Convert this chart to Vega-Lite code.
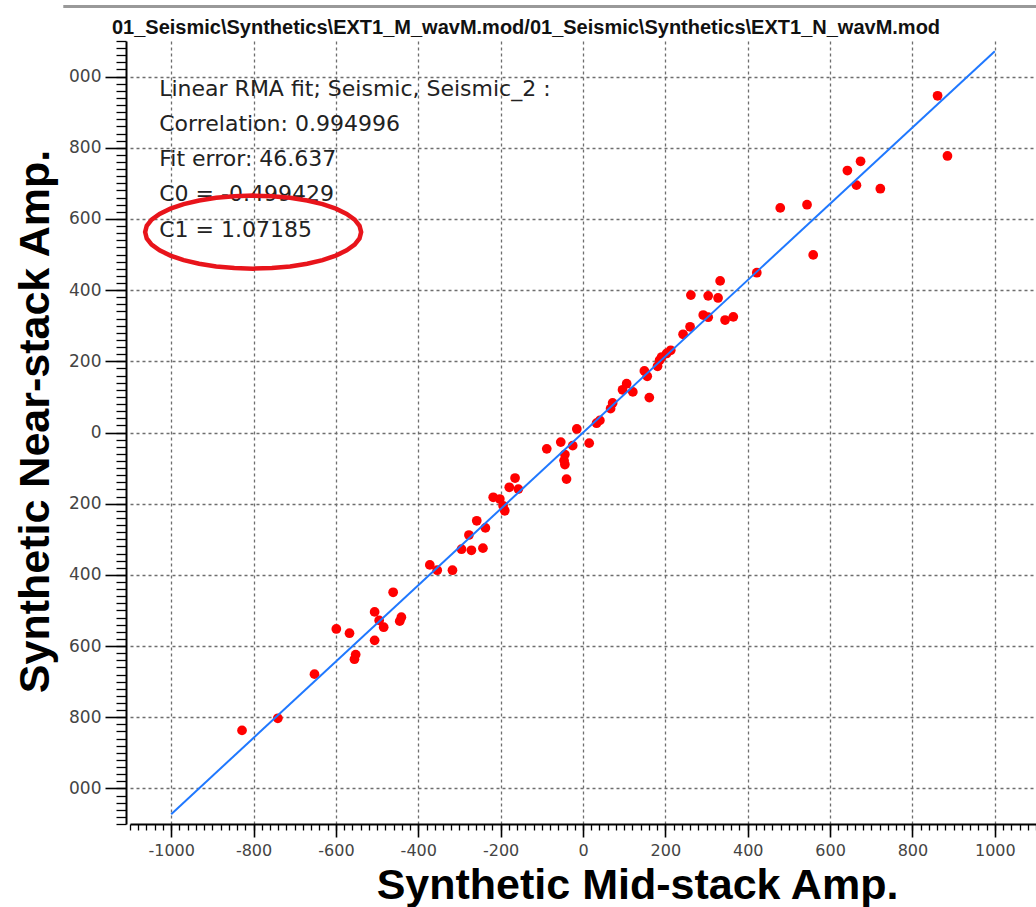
{
  "$schema": "https://vega.github.io/schema/vega-lite/v6.json",
  "width": 906,
  "height": 783,
  "autosize": {"type": "none"},
  "padding": {"left": 130, "top": 41, "right": 0, "bottom": 83},
  "background": "white",
  "title": {
    "text": "01_Seismic\\Synthetics\\EXT1_M_wavM.mod/01_Seismic\\Synthetics\\EXT1_N_wavM.mod",
    "font": "Liberation Sans",
    "fontSize": 20,
    "fontWeight": "bold",
    "color": "#111111",
    "anchor": "middle",
    "frame": "group",
    "dx": -57,
    "offset": -49,
    "baseline": "alphabetic"
  },
  "config": {"view": {"stroke": null}},
  "datasets": {
    "pts": [
      {"mid": 479, "near": 631}, {"mid": 544, "near": 640}, {"mid": 559, "near": 499}, {"mid": 642, "near": 736},
      {"mid": 674, "near": 762}, {"mid": 664, "near": 695}, {"mid": 722, "near": 685}, {"mid": 861, "near": 946},
      {"mid": 885, "near": 777}, {"mid": 422, "near": 449}, {"mid": 333, "near": 426}, {"mid": 262, "near": 386},
      {"mid": 304, "near": 384}, {"mid": 328, "near": 378}, {"mid": 292, "near": 330}, {"mid": 304, "near": 324},
      {"mid": 345, "near": 316}, {"mid": 365, "near": 325}, {"mid": 260, "near": 297}, {"mid": 243, "near": 276},
      {"mid": 213, "near": 231}, {"mid": 203, "near": 222}, {"mid": 191, "near": 212}, {"mid": 186, "near": 203},
      {"mid": 181, "near": 186}, {"mid": 149, "near": 173}, {"mid": 156, "near": 158}, {"mid": 161, "near": 98},
      {"mid": 106, "near": 137}, {"mid": 96, "near": 120}, {"mid": 121, "near": 114}, {"mid": 72, "near": 83},
      {"mid": 67, "near": 67}, {"mid": 33, "near": 26}, {"mid": 41, "near": 34}, {"mid": -15, "near": 10},
      {"mid": 15, "near": -30}, {"mid": -54, "near": -27}, {"mid": -25, "near": -37}, {"mid": -88, "near": -46},
      {"mid": -44, "near": -62}, {"mid": -46, "near": -79}, {"mid": -44, "near": -90}, {"mid": -40, "near": -131},
      {"mid": -165, "near": -128}, {"mid": -179, "near": -154}, {"mid": -157, "near": -159}, {"mid": -218, "near": -182},
      {"mid": -202, "near": -187}, {"mid": -194, "near": -206}, {"mid": -190, "near": -220}, {"mid": -258, "near": -248},
      {"mid": -237, "near": -268}, {"mid": -277, "near": -288}, {"mid": -295, "near": -328}, {"mid": -271, "near": -331},
      {"mid": -243, "near": -325}, {"mid": -372, "near": -372}, {"mid": -354, "near": -387}, {"mid": -317, "near": -387},
      {"mid": -461, "near": -449}, {"mid": -506, "near": -504}, {"mid": -495, "near": -528}, {"mid": -484, "near": -547},
      {"mid": -441, "near": -519}, {"mid": -445, "near": -530}, {"mid": -599, "near": -552}, {"mid": -567, "near": -564},
      {"mid": -506, "near": -584}, {"mid": -552, "near": -624}, {"mid": -555, "near": -637}, {"mid": -652, "near": -679},
      {"mid": -741, "near": -803}, {"mid": -828, "near": -837}
    ],
    "fit": [
      {"mid": -1000, "near": -1072.35},
      {"mid": 1000, "near": 1071.35}
    ]
  },
  "layer": [
    {
      "data": {"name": "pts"},
      "mark": {"type": "circle", "opacity": 0},
      "encoding": {
        "x": {
          "field": "mid", "type": "quantitative",
          "scale": {"domain": [-1100, 1100], "nice": false, "zero": false},
          "axis": {"orient": "bottom", "tickCount": 110, "labels": false, "grid": false, "domain": false, "ticks": true, "tickSize": 6, "tickColor": "#000000", "tickWidth": 1.3, "title": null}
        },
        "y": {
          "field": "near", "type": "quantitative",
          "scale": {"domain": [-1100, 1100], "nice": false, "zero": false},
          "axis": {"orient": "left", "tickCount": 110, "labels": false, "grid": false, "domain": false, "ticks": true, "tickSize": 10, "tickColor": "#000000", "tickWidth": 1.3, "offset": 4, "title": null}
        }
      }
    },
    {
      "data": {"name": "pts"},
      "mark": {"type": "circle", "size": 95, "color": "#ff0000", "opacity": 1},
      "encoding": {
        "x": {
          "field": "mid", "type": "quantitative",
          "axis": {
            "orient": "bottom",
            "values": [-1000, -800, -600, -400, -200, 0, 200, 400, 600, 800, 1000],
            "labelExpr": "'' + datum.value",
            "grid": true, "gridDash": [3, 3], "gridColor": "#6e6e6e", "gridWidth": 1.3,
            "domain": true, "domainColor": "#000000", "domainWidth": 2,
            "tickSize": 13, "tickColor": "#000000", "tickWidth": 1.6,
            "labelFont": "DejaVu Sans", "labelFontSize": 16, "labelColor": "#444444", "labelPadding": 5,
            "title": "Synthetic Mid-stack Amp.",
            "titleFont": "Liberation Sans", "titleFontSize": 43, "titleFontWeight": "bold", "titleColor": "#000000",
            "titleX": 507, "titleY": 74, "titleAlign": "center", "titleBaseline": "alphabetic"
          }
        },
        "y": {
          "field": "near", "type": "quantitative",
          "axis": {
            "orient": "left",
            "values": [-1000, -800, -600, -400, -200, 0, 200, 400, 600, 800, 1000],
            "labelExpr": "abs(datum.value) == 1000 ? '000' : '' + abs(datum.value)",
            "grid": true, "gridDash": [3, 3], "gridColor": "#6e6e6e", "gridWidth": 1.3,
            "domain": true, "domainColor": "#000000", "domainWidth": 2, "offset": 4,
            "tickSize": 21, "tickColor": "#000000", "tickWidth": 1.6,
            "labelFont": "DejaVu Sans", "labelFontSize": 17, "labelColor": "#444444", "labelPadding": 4,
            "title": "Synthetic Near-stack Amp.",
            "titleFont": "Liberation Sans", "titleFontSize": 43, "titleFontWeight": "bold", "titleColor": "#000000",
            "titleX": -78, "titleY": 380, "titleAlign": "center", "titleBaseline": "alphabetic"
          }
        }
      }
    },
    {
      "data": {"name": "fit"},
      "mark": {"type": "line", "color": "#1f78ff", "strokeWidth": 2},
      "encoding": {
        "x": {"field": "mid", "type": "quantitative", "axis": null},
        "y": {"field": "near", "type": "quantitative", "axis": null}
      }
    },
    {
      "data": {"values": [{"note": "fit"}]},
      "mark": {
        "type": "text", "align": "left", "baseline": "alphabetic",
        "font": "DejaVu Sans", "fontSize": 22, "color": "#222222", "lineHeight": 35.3,
        "text": ["Linear RMA fit; Seismic, Seismic_2 :", "Correlation: 0.994996", "Fit error: 46.637", "C0 = -0.499429", "C1 = 1.07185"]
      },
      "encoding": {
        "x": {"datum": -1029, "type": "quantitative", "axis": null},
        "y": {"datum": 946.6, "type": "quantitative", "axis": null}
      }
    },
    {
      "data": {"values": [{"note": "C1"}]},
      "mark": {
        "type": "point", "filled": false, "color": "#e8141b", "strokeWidth": 4.5, "opacity": 1, "size": 46656,
        "shape": "M 1 0 L 0.985 0.059 L 0.94 0.116 L 0.866 0.169 L 0.766 0.217 L 0.643 0.259 L 0.5 0.293 L 0.342 0.318 L 0.174 0.333 L 0 0.338 L -0.174 0.333 L -0.342 0.318 L -0.5 0.293 L -0.643 0.259 L -0.766 0.217 L -0.866 0.169 L -0.94 0.116 L -0.985 0.059 L -1 0 L -0.985 -0.059 L -0.94 -0.116 L -0.866 -0.169 L -0.766 -0.217 L -0.643 -0.259 L -0.5 -0.293 L -0.342 -0.318 L -0.174 -0.333 L 0 -0.338 L 0.174 -0.333 L 0.342 -0.318 L 0.5 -0.293 L 0.643 -0.259 L 0.766 -0.217 L 0.866 -0.169 L 0.94 -0.116 L 0.985 -0.059 Z"
      },
      "encoding": {
        "x": {"datum": -801, "type": "quantitative", "axis": null},
        "y": {"datum": 563, "type": "quantitative", "axis": null}
      }
    },
    {
      "data": {"values": [{"note": "frame"}]},
      "mark": {"type": "rule", "color": "#999999", "strokeWidth": 3, "clip": false},
      "encoding": {
        "x": {"datum": -1262, "type": "quantitative", "axis": null},
        "x2": {"datum": 1110},
        "y": {"datum": 1197, "type": "quantitative", "axis": null}
      }
    }
  ],
  "resolve": {"axis": {"x": "independent", "y": "independent"}}
}
